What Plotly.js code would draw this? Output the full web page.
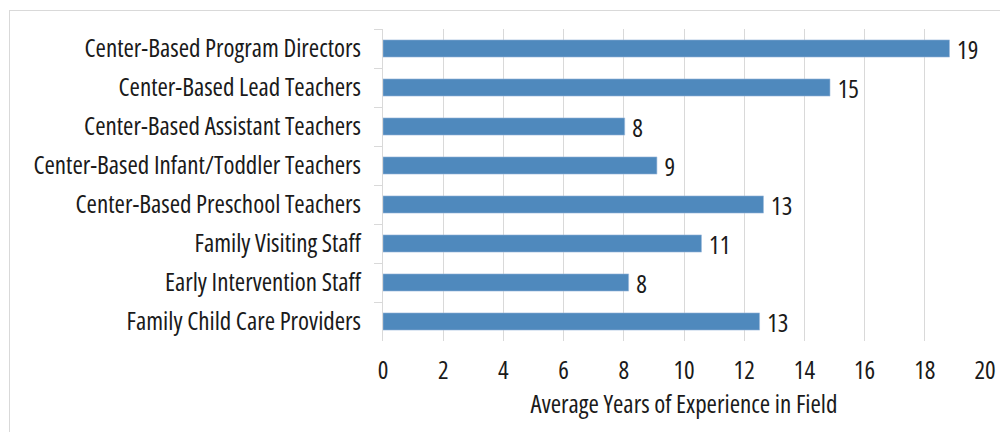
<!DOCTYPE html>
<html>
<head>
<meta charset="utf-8">
<script src="https://cdn.plot.ly/plotly-3.0.1.min.js"></script>
<style>
  html, body { margin: 0; padding: 0; background: #fff; overflow: hidden; }
  text { font-stretch: 87.5% !important; }
  #frame { position: absolute; left: 9px; top: 10px; width: 1000px; height: 440px; border: 1px solid #d9d9d9; box-sizing: border-box; }
  #chart { position: absolute; left: 0; top: 0; width: 1000px; height: 432px; }
</style>
</head>
<body>
<div id="frame"></div>
<div id="chart"></div>
<script>
const categories = [
  "Center-Based Program Directors",
  "Center-Based Lead Teachers",
  "Center-Based Assistant Teachers",
  "Center-Based Infant/Toddler Teachers",
  "Center-Based Preschool Teachers",
  "Family Visiting Staff",
  "Early Intervention Staff",
  "Family Child Care Providers"
];
const years = [18.82, 14.85, 8.03, 9.1, 12.64, 10.58, 8.16, 12.51];
const xTicks = [0, 2, 4, 6, 8, 10, 12, 14, 16, 18, 20];
const xTitle = "Average Years of Experience in Field";

const FONT = "'Open Sans', 'Liberation Sans', Arial, sans-serif";
const INK = "#1a1a1a";
const SIZE = 25;
const WEIGHT = 400;

const trace = {
  type: "bar",
  orientation: "h",
  x: years,
  y: categories,
  width: 0.44,
  marker: { color: "#4f89bd", line: { color: "#9dbbdb", width: 0.6 } },
  texttemplate: "\u00a0%{x:.0f}",
  textposition: "outside",
  constraintext: "none",
  cliponaxis: false,
  textfont: { family: FONT, size: SIZE, color: INK, weight: WEIGHT },
  hoverinfo: "skip"
};

const layout = {
  width: 1000,
  height: 432,
  margin: { l: 383, r: 15, t: 29, b: 91 },
  paper_bgcolor: "rgba(0,0,0,0)",
  plot_bgcolor: "rgba(0,0,0,0)",
  font: { family: FONT, size: SIZE, color: INK, weight: WEIGHT },
  showlegend: false,
  xaxis: {
    range: [0, 20],
    tickvals: xTicks,
    ticktext: xTicks.map(String),
    showgrid: true,
    gridcolor: "#d9d9d9",
    gridwidth: 1,
    zeroline: false,
    showline: false,
    ticks: "",
    ticklabelstandoff: 12,
    tickfont: { family: FONT, size: SIZE, color: INK, weight: WEIGHT },
    title: { text: xTitle, font: { family: FONT, size: SIZE, color: INK, weight: WEIGHT }, standoff: 4 },
    fixedrange: true
  },
  yaxis: {
    type: "category",
    autorange: "reversed",
    showline: true,
    linecolor: "#d9d9d9",
    linewidth: 1,
    ticks: "outside",
    tickson: "boundaries",
    ticklen: 8,
    tickcolor: "#d9d9d9",
    showgrid: false,
    tickfont: { family: FONT, size: SIZE, color: INK, weight: WEIGHT },
    ticklabelstandoff: 16,
    fixedrange: true
  }
};

Plotly.newPlot("chart", [trace], layout, { displayModeBar: false, staticPlot: true });
</script>
</body>
</html>
